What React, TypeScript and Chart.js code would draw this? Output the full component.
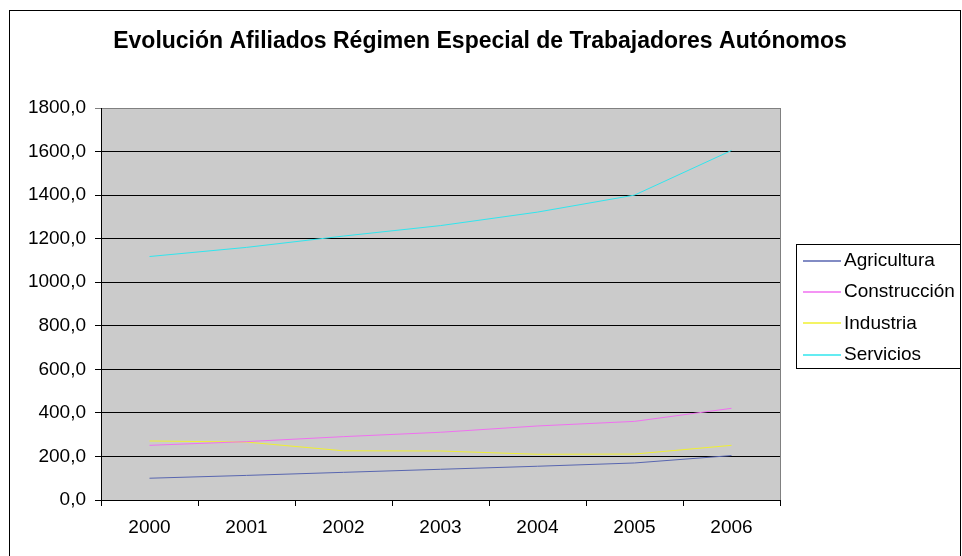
import React, { useEffect, useRef } from "react";
import { Chart, registerables } from "chart.js";

Chart.register(...registerables);

const TITLE = "Evolución Afiliados Régimen Especial de Trabajadores Autónomos";
const years = ["2000", "2001", "2002", "2003", "2004", "2005", "2006"];
const seriesNames = ["Agricultura", "Construcción", "Industria", "Servicios"];
const agricultura = [100, 113, 127, 141, 155, 170, 204];
const construccion = [251, 268, 291, 311, 340, 361, 421];
const industria = [271, 266, 226, 225, 210, 211, 251];
const servicios = [1118, 1160, 1212, 1260, 1322, 1400, 1605];
const seriesColors = ["#5866B0", "#F070F0", "#F0F030", "#30E6EE"];
const yTickMin = 0;
const yTickMax = 1800;
const yTickStep = 200;

const FONT = "'Liberation Sans', Arial, sans-serif";

const decor = {
  id: "decor",
  beforeDraw(chart: any) {
    const { ctx, chartArea: a, width, height } = chart;
    ctx.save();
    ctx.fillStyle = "#ffffff";
    ctx.fillRect(0, 0, width, height);
    ctx.fillStyle = "#CBCBCB";
    ctx.fillRect(a.left, a.top, a.right - a.left, a.bottom - a.top);
    ctx.restore();
  },
  afterDraw(chart: any) {
    const { ctx, chartArea: a } = chart;
    ctx.save();
    // plot area right border
    ctx.strokeStyle = "#808080";
    ctx.lineWidth = 1;
    ctx.beginPath();
    ctx.moveTo(Math.round(a.right) + 0.5, a.top);
    ctx.lineTo(Math.round(a.right) + 0.5, a.bottom);
    ctx.stroke();
    // outer border
    ctx.strokeStyle = "#000";
    ctx.strokeRect(9.5, 10.5, 951, 570);
    // title
    ctx.fillStyle = "#000";
    ctx.font = `bold 23px ${FONT}`;
    ctx.textAlign = "center";
    ctx.textBaseline = "middle";
    ctx.fillText(TITLE, 480, 42);
    // legend
    const lx = 796, ly = 244, lw = 164, lh = 124;
    ctx.strokeStyle = "#000";
    ctx.strokeRect(lx + 0.5, ly + 0.5, lw, lh);
    ctx.font = `19px ${FONT}`;
    ctx.textAlign = "left";
    chart.data.datasets.forEach((ds: any, i: number) => {
      const y = 261 + i * 31.2;
      ctx.strokeStyle = seriesColors[i];
      ctx.lineWidth = 1.5;
      ctx.beginPath();
      ctx.moveTo(803, Math.round(y));
      ctx.lineTo(841, Math.round(y));
      ctx.stroke();
      ctx.fillStyle = "#000";
      ctx.fillText(ds.label, 844, y);
    });
    ctx.restore();
  },
};

export default function App() {
  const ref = useRef<HTMLCanvasElement | null>(null);
  useEffect(() => {
    document.body.style.margin = "0";
    const values = [agricultura, construccion, industria, servicios];
    const chart = new Chart(ref.current as HTMLCanvasElement, {
      type: "line",
      data: {
        labels: years,
        datasets: seriesNames.map((name, i) => ({
          label: name,
          data: values[i],
          borderColor: seriesColors[i],
          backgroundColor: seriesColors[i],
          borderWidth: 1,
          pointRadius: 0,
          tension: 0,
          fill: false,
        })),
      },
      options: {
        animation: false,
        responsive: false,
        devicePixelRatio: 1,
        layout: { padding: { left: 0, top: 108, right: 182, bottom: 0 } },
        plugins: {
          legend: { display: false },
          title: { display: false },
          tooltip: { enabled: false },
        },
        scales: {
          x: {
            type: "category",
            offset: true,
            afterFit(scale: any) {
              scale.height = 56;
            },
            grid: {
              offset: true,
              drawOnChartArea: false,
              drawTicks: true,
              tickLength: 6,
              color: "#000",
            },
            border: { color: "#000", width: 1 },
            ticks: {
              color: "#000",
              padding: 10,
              maxRotation: 0,
              font: { family: FONT, size: 19 },
            },
          },
          y: {
            min: yTickMin,
            max: yTickMax,
            afterFit(scale: any) {
              scale.width = 101;
            },
            grid: {
              color: (c: any) => (c.tick && c.tick.value === yTickMax ? "#808080" : "#000"),
              tickLength: 6,
              drawTicks: true,
            },
            border: { color: "#000", width: 1 },
            ticks: {
              stepSize: yTickStep,
              color: "#000",
              padding: 9,
              font: { family: FONT, size: 19 },
              callback: (v: any) => Number(v).toFixed(1).replace(".", ","),
            },
          },
        },
      },
      plugins: [decor],
    });
    return () => chart.destroy();
  }, []);
  return (
    <div style={{ width: 962, height: 556 }}>
      <canvas ref={ref} width={962} height={556} style={{ display: "block", width: 962, height: 556 }} />
    </div>
  );
}
